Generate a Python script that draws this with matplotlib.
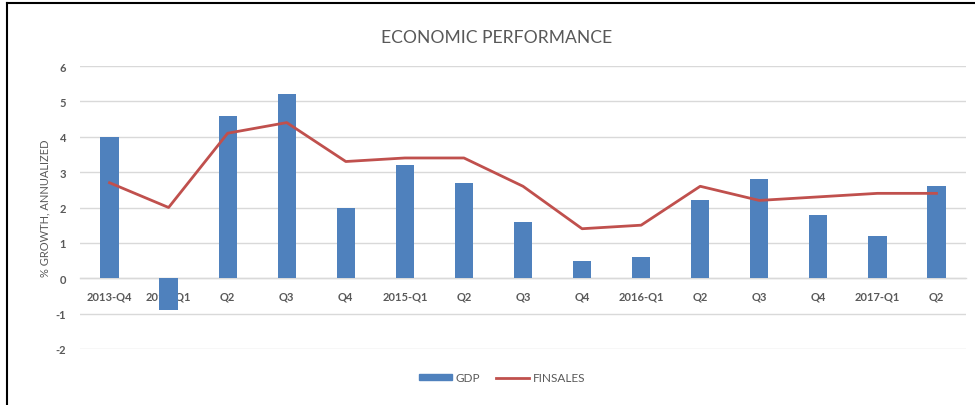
import matplotlib
matplotlib.use("Agg")
import matplotlib.pyplot as plt
import numpy as np
from matplotlib.lines import Line2D

categories = ["2013-Q4", "2014-Q1", "Q2", "Q3", "Q4", "2015-Q1", "Q2", "Q3", "Q4",
              "2016-Q1", "Q2", "Q3", "Q4", "2017-Q1", "Q2"]
gdp = [4.0, -0.9, 4.6, 5.2, 2.0, 3.2, 2.7, 1.6, 0.5, 0.6, 2.2, 2.8, 1.8, 1.2, 2.6]
finsales = [2.7, 2.0, 4.1, 4.4, 3.3, 3.4, 3.4, 2.6, 1.4, 1.5, 2.6, 2.2, 2.3, 2.4, 2.4]
yticks = [-2, -1, 0, 1, 2, 3, 4, 5, 6]

plt.rcParams['font.family'] = ['Lato', 'DejaVu Sans']

fig = plt.figure(figsize=(9.75, 4.06), dpi=100)
ax = fig.add_axes([80/975, 1 - 350/406, (966 - 80)/975, (350 - 67)/406])

x = np.arange(len(categories))
bar_color = "#4F81BD"
line_color = "#C0504D"
ax.bar(x, gdp, width=0.31, color=bar_color, zorder=3, label="GDP")
ax.plot(x, finsales, color=line_color, lw=2.0, zorder=4, label="FINSALES")

ax.set_xlim(-0.5, len(categories) - 0.5)
ax.set_ylim(-2, 6)
ax.set_yticks(yticks)
ax.set_yticklabels([str(v) for v in yticks])
ax.set_xticks(x)
ax.set_xticklabels(categories)
ax.set_axisbelow(True)
ax.grid(axis='y', color="#D9D9D9", lw=1.0, zorder=0)
for s in ['top', 'right', 'left']:
    ax.spines[s].set_visible(False)
ax.spines['bottom'].set_position(('data', 0))
ax.spines['bottom'].set_color("#D9D9D9")
ax.spines['bottom'].set_linewidth(1.0)
ax.tick_params(axis='x', length=0, pad=9, labelsize=8, labelcolor="#595959")
ax.tick_params(axis='y', length=0, pad=10, labelsize=8, labelcolor="#595959")
for lab in ax.get_xticklabels() + ax.get_yticklabels():
    lab.set_fontweight('bold')

ax.set_ylabel("% GROWTH, ANNUALIZED", fontsize=8, color="#595959", labelpad=4)

fig.text(497/975, 1 - 38/406, "ECONOMIC PERFORMANCE", ha='center', va='center',
         fontsize=12.6, color="#595959")

handles = [plt.Rectangle((0, 0), 1, 1, color=bar_color),
           Line2D([0], [0], color=line_color, lw=2.0)]
fig.legend(handles, ["GDP", "FINSALES"], loc='center', bbox_to_anchor=(502/975, 1 - 379/406),
           ncol=2, frameon=False, fontsize=8.5, labelcolor="#595959",
           handlelength=2.8, handleheight=0.45, columnspacing=1.4, handletextpad=0.3)

# outer border lines (left and top)
fig.add_artist(Line2D([7/975, 7/975], [0, 1 - 4/406], color='black', lw=1.5,
                      transform=fig.transFigure))
fig.add_artist(Line2D([7/975, 1], [1 - 4/406, 1 - 4/406], color='black', lw=1.5,
                      transform=fig.transFigure))

fig.savefig("out.png", dpi=100, facecolor='white')
